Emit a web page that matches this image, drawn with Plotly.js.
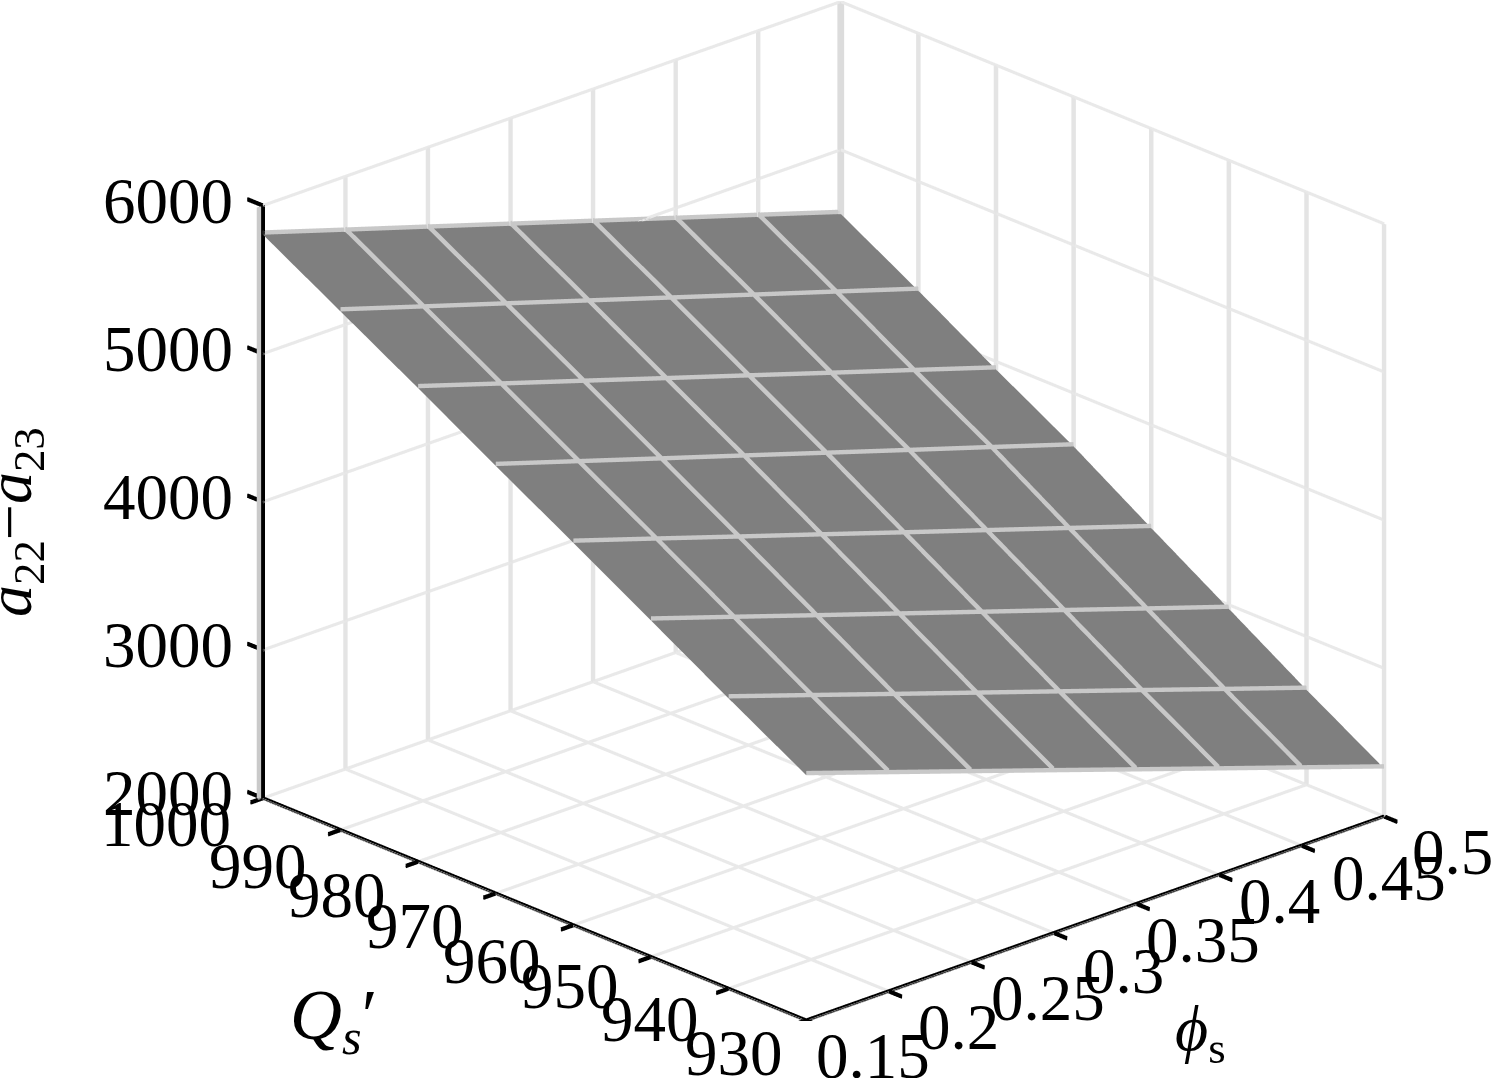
<!DOCTYPE html>
<html><head><meta charset="utf-8">
<script src="https://cdn.plot.ly/plotly-3.0.1.min.js"></script>
<style>html,body{margin:0;padding:0;background:#fff}#c{width:1493px;height:1078px}</style></head>
<body><div id="c"></div>
<script>
const phiTicks=[0.15,0.2,0.25,0.3,0.35,0.4,0.45,0.5];
const qTicks=[930,940,950,960,970,980,990,1000];
const zTicks=[2000,3000,4000,5000,6000];
const phiLabels=['0.15','0.2','0.25','0.3','0.35','0.4','0.45','0.5'];
const qLabels=['930','940','950','960','970','980','990','1000'];
const zLabels=['2000','3000','4000','5000','6000'];
// rows follow qTicks, columns follow phiTicks
const diff=[
[3655,3465,3275,3085,2894,2704,2514,2324],
[3959,3771,3582,3394,3206,3018,2829,2641],
[4270,4085,3899,3714,3529,3344,3158,2973],
[4581,4399,4216,4034,3851,3669,3487,3304],
[4885,4707,4529,4352,4174,3996,3819,3641],
[5196,5017,4839,4660,4482,4303,4125,3946],
[5500,5323,5147,4970,4793,4616,4440,4263],
[5804,5627,5451,5274,5097,4920,4744,4567]
];
const xMin=phiTicks[0],xMax=phiTicks[7],yMin=qTicks[0],yMax=qTicks[7],zMin=zTicks[0],zMax=zTicks[4];
// one screen pixel expressed along each data axis
const pxX=0.0006,pxY=0.129,pxZ=6.76;
function seg(list,color){
 const X=[],Y=[],Z=[];
 list.forEach(s=>{s.forEach(p=>{X.push(p[0]);Y.push(p[1]);Z.push(p[2]);});X.push(null);Y.push(null);Z.push(null);});
 return {type:'scatter3d',mode:'lines',x:X,y:Y,z:Z,line:{color:color,width:4},hoverinfo:'skip',showlegend:false,connectgaps:false};
}
// WebGL draws thin lines here, so a wide line is several neighbouring copies
function thick(list,d,offsets){
 const out=[];
 offsets.forEach(k=>list.forEach(s=>out.push(s.map(p=>[p[0]+k*d[0],p[1]+k*d[1],p[2]+k*d[2]]))));
 return out;
}
const DX=[pxX,0,0],DY=[0,pxY,0],DZ=[0,0,pxZ];
const w2=[-0.6,0.6],w3=[-1.2,0,1.2];
const vertA=phiTicks.slice(1,7).map(v=>[[v,yMax,zMin],[v,yMax,zMax]]);
const vertB=qTicks.slice(0,7).map(v=>[[xMax,v,zMin],[xMax,v,zMax]]);
const flat=[];
phiTicks.forEach(v=>flat.push([[v,yMin,zMin],[v,yMax,zMin]]));
qTicks.forEach(v=>flat.push([[xMin,v,zMin],[xMax,v,zMin]]));
zTicks.forEach(v=>{flat.push([[xMin,yMax,v],[xMax,yMax,v]]);flat.push([[xMax,yMin,v],[xMax,yMax,v]]);});
const rows=[],cols=[];
qTicks.forEach((q,r)=>rows.push(phiTicks.map((p,c)=>[p,q,diff[r][c]+6])));
phiTicks.forEach((p,c)=>{if(c>0&&c<7)cols.push(qTicks.map((q,r)=>[p,q,diff[r][c]+6]));});
const zAxis=[[[xMin,yMax,zMin],[xMin,yMax,zMax]]];
const floorAxes=[[[xMin,yMin,zMin],[xMin,yMax,zMin]],[[xMin,yMin,zMin],[xMax,yMin,zMin]]];
const tickSegs=[];
phiTicks.forEach(v=>tickSegs.push([[v,yMin,zMin],[v,yMin-1.7,zMin]]));
qTicks.forEach(v=>tickSegs.push([[xMin,v,zMin],[xMin-0.0075,v,zMin]]));
zTicks.forEach(v=>tickSegs.push([[xMin,yMax,v],[xMin,yMax+2,v]]));
const hidden={showgrid:false,showbackground:false,zeroline:false,showticklabels:false,ticks:'',showline:false,showspikes:false,title:{text:''}};
const fnt={family:'Liberation Serif',size:65,color:'#000'};
const ann=[];
const phiNudge=[-3,0,7,0,-3,-10,17,-2];
const phiRise=[0,0,0,-2,0,10,3,0];
phiTicks.forEach((v,i)=>ann.push({x:v,y:yMin,z:zMin,text:phiLabels[i],showarrow:false,xanchor:'center',yanchor:'middle',xshift:70+phiNudge[i],yshift:-36+phiRise[i],font:fnt}));
const qNudge=[9,2,0,0,0,0,-2,0];
const qRise=[0,3,4,-3,0,0,-3,7];
qTicks.forEach((v,i)=>ann.push({x:xMin,y:v,z:zMin,text:qLabels[i],showarrow:false,xanchor:'right',yanchor:'middle',xshift:-30+qNudge[i],yshift:-33+qRise[i],font:fnt}));
zTicks.forEach((v,i)=>ann.push({x:xMin,y:yMax,z:v,text:zLabels[i],showarrow:false,xanchor:'right',yanchor:'middle',xshift:-28,yshift:5,font:fnt}));
Plotly.newPlot('c',[
 seg(thick(vertA,DX,w3),'#e4e4e4'),
 seg(thick(vertB,DY,w3),'#e4e4e4'),
 seg(thick([[[xMax,yMax,zMin],[xMax,yMax,zMax]]],DX,[-2.4,-1.2,0,1.2,2.4]),'#dcdcdc'),
 seg(thick([[[xMin,yMax,zMin],[xMin,yMax,zMax]]],DX,[-5.2,-4,-2.8]),'#cacaca'),
 seg(thick(flat,DZ,w2),'#e9e9e9'),
 {type:'surface',x:phiTicks,y:qTicks,z:diff,showscale:false,
 colorscale:[[0,'#7f7f7f'],[1,'#7f7f7f']],
 lighting:{ambient:1,diffuse:0,specular:0,roughness:1,fresnel:0},hoverinfo:'skip'},
 seg(thick(rows,DZ,[0,1.2,2.4]),'#c8c8c8'),
 seg(thick(cols,DZ,[0,1.2,2.4,3.6]),'#c8c8c8'),
 seg(thick(zAxis,DX,w3),'#000'),
 seg(thick(floorAxes,DZ,[-0.8,-0.2,0.4,1]),'#000'),
 seg(thick(tickSegs,DZ,w3),'#000')
],{
 width:1493,height:1078,margin:{l:0,r:0,t:0,b:0},paper_bgcolor:'#fff',showlegend:false,
 scene:{domain:{x:[0.1032,1],y:[0.053,0.999]},
  aspectmode:'manual',aspectratio:{x:1.635,y:1.789,z:1.319},
  camera:{projection:{type:'orthographic'},up:{x:0,y:0,z:1},center:{x:0,y:0,z:0},eye:{x:-0.706,y:-0.76,z:0.426}},
  xaxis:Object.assign({},hidden,{range:[0.14,0.51]}),
  yaxis:Object.assign({},hidden,{range:[925,1005]}),
  zaxis:Object.assign({},hidden,{range:[1900,6100]}),
  annotations:ann},
 annotations:[
  {xref:'paper',yref:'paper',x:14/1493,y:1-522/1078,xanchor:'center',yanchor:'middle',text:'<i>a</i><sub>22</sub>−<i>a</i><sub>23</sub>',textangle:-90,showarrow:false,font:{family:'Liberation Serif',size:64,color:'#000'}},
  {xref:'paper',yref:'paper',x:333/1493,y:1-1020/1078,xanchor:'center',yanchor:'middle',text:"<i>Q<sub>s</sub></i>′",showarrow:false,font:{family:'Liberation Serif',size:72,color:'#000'}},
  {xref:'paper',yref:'paper',x:1200/1493,y:1-1033/1078,xanchor:'center',yanchor:'middle',text:"<i>ϕ</i><sub>s</sub>",showarrow:false,font:{family:'Liberation Serif',size:64,color:'#000'}}
 ]
},{displayModeBar:false});
</script></body></html>
